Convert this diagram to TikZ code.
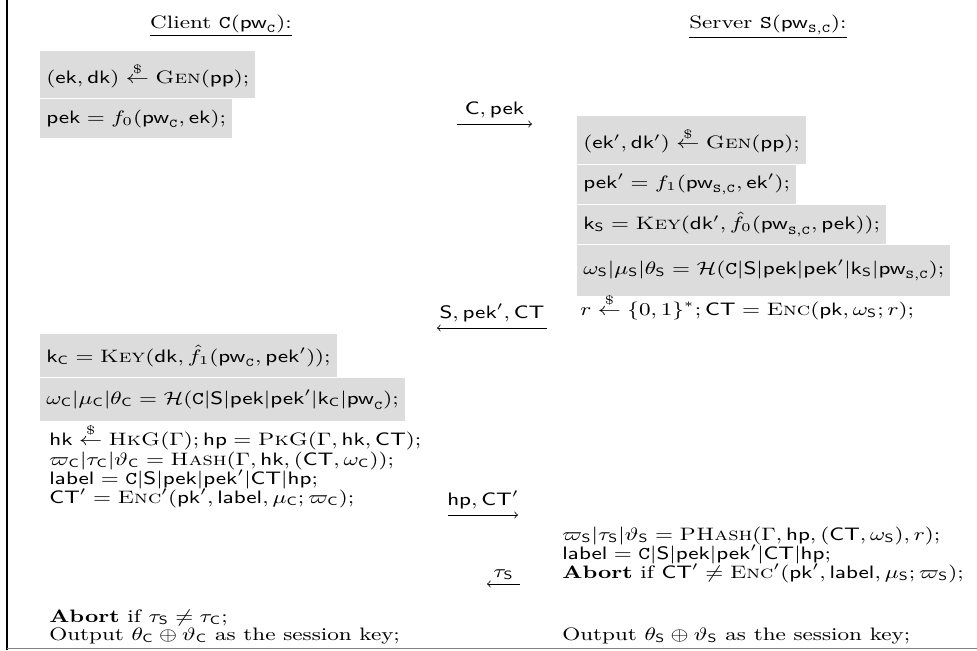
\documentclass[tikz,border=0pt]{standalone}
\usepackage{amsmath}
\usepackage{amssymb}
\usepackage{graphicx}
\usetikzlibrary{positioning}

\definecolor{boxgray}{RGB}{220,220,220}
\newcommand{\smp}{\stackrel{\$}{\leftarrow}}
\newcommand{\Cli}{\mathtt{C}}
\newcommand{\Srv}{\mathtt{S}}
\newcommand{\pC}{\mathsf{C}}
\newcommand{\pS}{\mathsf{S}}
\newcommand{\sv}[1]{\mathsf{#1}}
\newcommand{\alg}[1]{\textsc{#1}}
\newcommand{\hs}[1]{\scalebox{1.25}[1]{#1}}

\begin{document}
\begin{tikzpicture}[x=0.5pt,y=-0.5pt,font=\fontsize{9}{11}\selectfont,
    line/.style={anchor=base west, inner sep=0pt},
    gbox/.style={anchor=north west, fill=boxgray, inner xsep=3pt, inner ysep=0pt},
    msg/.style={->, line width=0.4pt},
    lbl/.style={inner sep=3pt}]
  \useasboundingbox (0,0) rectangle (977,650);
  % frame
  \draw[line width=1.2pt] (7,0) -- (7,650);
  \draw[gray, line width=0.8pt] (7,648.5) -- (977,648.5);

  % titles
  \node[anchor=base] (ctitle) at (221,28) {\hs{\underline{Client $\Cli(\sv{pw}_{\Cli})$:}}};
  \node[anchor=base] (stitle) at (768,28) {\hs{\underline{Server $\Srv(\sv{pw}_{\Srv,\Cli})$:}}};

  % client, first flow
  \node[gbox, minimum height=23.5pt] (cgen) at (40,51) {\hs{$(\sv{ek},\sv{dk}) \smp \alg{Gen}(\sv{pp})$;}};
  \node[gbox, minimum height=19.5pt] (cpek) at (cgen.south west) {\hs{$\sv{pek} = f_0(\sv{pw}_{\Cli},\sv{ek})$;}};

  % server, first flow
  \node[gbox, minimum height=24pt] (sgen) at (577,116) {\hs{$(\sv{ek}',\sv{dk}') \smp \alg{Gen}(\sv{pp})$;}};
  \node[gbox, minimum height=19.5pt] (spek) at (sgen.south west) {\hs{$\sv{pek}' = f_1(\sv{pw}_{\Srv,\Cli},\sv{ek}')$;}};
  \node[gbox, minimum height=19.5pt] (skey) at (spek.south west) {\hs{$\sv{k}_{\pS} = \alg{Key}(\sv{dk}', \hat{f}_0(\sv{pw}_{\Srv,\Cli},\sv{pek}))$;}};
  \node[gbox, minimum height=25.5pt] (shash) at (skey.south west) {\hs{$\omega_{\pS}|\mu_{\pS}|\theta_{\pS} = \mathcal{H}(\Cli|\pS|\sv{pek}|\sv{pek}'|\sv{k}_{\pS}|\sv{pw}_{\Srv,\Cli})$;}};
  \node[line] (senc) at (580,315) {\hs{$r \smp \{0,1\}^*; \sv{CT} = \alg{Enc}(\sv{pk}, \omega_{\pS}; r)$;}};

  % client, second flow
  \node[gbox, minimum height=21.5pt] (ckey) at (40,334) {\hs{$\sv{k}_{\pC} = \alg{Key}(\sv{dk}, \hat{f}_1(\sv{pw}_{\Cli},\sv{pek}'))$;}};
  \node[gbox, minimum height=21.5pt] (chash) at (ckey.south west) {\hs{$\omega_{\pC}|\mu_{\pC}|\theta_{\pC} = \mathcal{H}(\Cli|\pS|\sv{pek}|\sv{pek}'|\sv{k}_{\pC}|\sv{pw}_{\Cli})$;}};
  \node[line] (chk) at (49,445) {\hs{$\sv{hk} \smp \alg{HkG}(\Gamma); \sv{hp} = \alg{PkG}(\Gamma,\sv{hk},\sv{CT})$;}};
  \node[line] (cph) at (49,465) {\hs{$\varpi_{\pC}|\tau_{\pC}|\vartheta_{\pC} = \alg{Hash}(\Gamma,\sv{hk},(\sv{CT},\omega_{\pC}))$;}};
  \node[line] (clab) at (49,484) {\hs{$\sv{label} = \Cli|\pS|\sv{pek}|\sv{pek}'|\sv{CT}|\sv{hp}$;}};
  \node[line] (cct) at (49,503) {\hs{$\sv{CT}' = \alg{Enc}'(\sv{pk}', \sv{label}, \mu_{\pC}; \varpi_{\pC})$;}};
  \node[line] (cabort) at (49,622) {\hs{\textbf{Abort} if $\tau_{\pS} \neq \tau_{\pC}$;}};
  \node[line] (cout) at (49,640) {\hs{Output $\theta_{\pC} \oplus \vartheta_{\pC}$ as the session key;}};

  % server, third flow
  \node[line] (sph) at (562,540) {\hs{$\varpi_{\pS}|\tau_{\pS}|\vartheta_{\pS} = \alg{PHash}(\Gamma,\sv{hp},(\sv{CT},\omega_{\pS}),r)$;}};
  \node[line] (slab) at (562,559) {\hs{$\sv{label} = \Cli|\pS|\sv{pek}|\sv{pek}'|\sv{CT}|\sv{hp}$;}};
  \node[line] (sabort) at (562,578) {\hs{\textbf{Abort} if $\sv{CT}' \neq \alg{Enc}'(\sv{pk}', \sv{label}, \mu_{\pS}; \varpi_{\pS})$;}};
  \node[line] (sout) at (562,640) {\hs{Output $\theta_{\pS} \oplus \vartheta_{\pS}$ as the session key;}};

  % messages
  \coordinate (m1a) at (457,124);
  \coordinate (m1b) at (532,124);
  \draw[msg] (m1a) -- node[above, lbl] (m1) {\hs{$\sv{C}, \sv{pek}$}} (m1b);
  \coordinate (m2a) at (547,328);
  \coordinate (m2b) at (437,328);
  \draw[msg] (m2a) -- node[above, lbl] (m2) {\hs{$\sv{S}, \sv{pek}', \sv{CT}$}} (m2b);
  \coordinate (m3a) at (448,515);
  \coordinate (m3b) at (518,515);
  \draw[msg] (m3a) -- node[above, lbl] (m3) {\hs{$\sv{hp}, \sv{CT}'$}} (m3b);
  \coordinate (m4a) at (520,584);
  \coordinate (m4b) at (487,584);
  \draw[msg] (m4a) -- node[above, lbl, inner sep=2pt] (m4) {\hs{$\tau_{\pS}$}} (m4b);
\end{tikzpicture}
\end{document}
